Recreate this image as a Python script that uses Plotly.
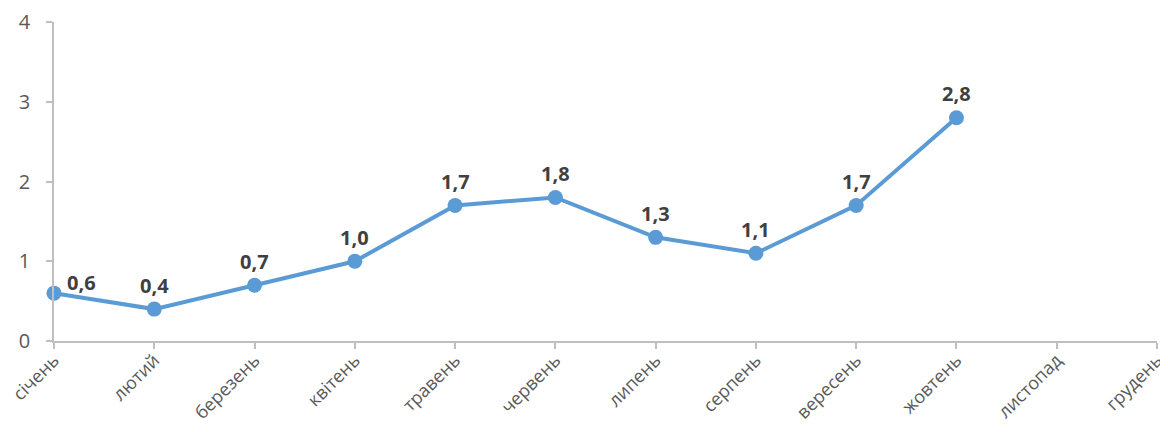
import plotly.graph_objects as go

months = ["січень", "лютий", "березень", "квітень", "травень", "червень",
          "липень", "серпень", "вересень", "жовтень", "листопад", "грудень"]
values = [0.6, 0.4, 0.7, 1.0, 1.7, 1.8, 1.3, 1.1, 1.7, 2.8, None, None]
y_ticks = [0, 1, 2, 3, 4]

x_idx = list(range(len(months)))

fig = go.Figure()
fig.add_trace(go.Scatter(
    x=x_idx, y=values, mode="lines+markers",
    line=dict(color="#5B9BD5", width=4),
    marker=dict(color="#5B9BD5", size=15),
    cliponaxis=False, connectgaps=False, hoverinfo="skip",
))

for i, v in enumerate(values):
    if v is None:
        continue
    first = i == 0
    fig.add_annotation(
        x=x_idx[i], y=v, text=f"{v:.1f}".replace(".", ","), showarrow=False,
        xanchor="left" if first else "center", yanchor="middle",
        xshift=11 if first else 0, yshift=11 if first else 24,
        font=dict(family="Open Sans", size=20, color="#404040", weight="bold"),
    )

# page body has an 8px margin, so the figure is shifted by 8px; compensate
fig.update_layout(
    width=1160, height=424,
    margin=dict(l=46, r=11, t=14, b=91),
    paper_bgcolor="white", plot_bgcolor="white",
    showlegend=False,
    font=dict(family="Open Sans", color="#595959"),
)
fig.update_xaxes(
    range=[0, 11], tickmode="array", tickvals=x_idx, ticktext=months,
    tickangle=-45, tickfont=dict(size=18, color="#595959"), automargin=False,
    ticklabeloverflow="allow", ticklabelstandoff=-6,
    showgrid=False, zeroline=False, showline=True, linecolor="#BFBFBF", linewidth=1.5,
    ticks="outside", ticklen=6, tickcolor="#BFBFBF", tickwidth=1.5,
)
fig.update_yaxes(
    range=[0, 4], tickmode="array", tickvals=y_ticks, automargin=False,
    tickfont=dict(size=20, color="#595959"),
    ticklabelposition="outside", ticklabelstandoff=12,
    showgrid=False, zeroline=False, showline=True, linecolor="#BFBFBF", linewidth=1.5,
    ticks="outside", ticklen=6, tickcolor="#BFBFBF", tickwidth=1.5,
)

fig.write_html("out.html")
